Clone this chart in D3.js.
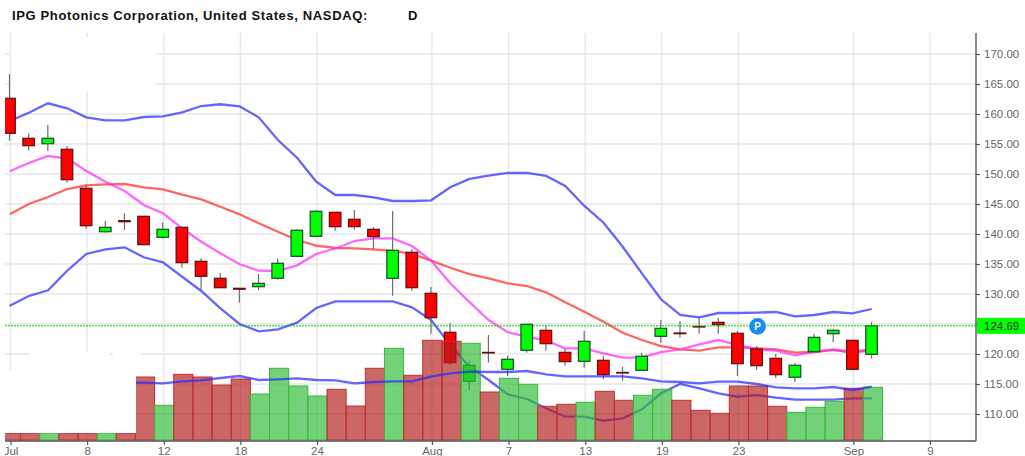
<!DOCTYPE html>
<html>
<head>
<meta charset="utf-8">
<script src="https://cdn.jsdelivr.net/npm/d3@7/dist/d3.min.js"></script>
<style>
    html, body { margin: 0; padding: 0; background: #fff; overflow: hidden; }
    svg { display: block; font-family: "Liberation Sans", Arial, sans-serif; }
</style>
</head>
<body>
<svg id="chart"></svg>
<script>
// values, one entry per trading day
const open = [162.62,155.95,155.05,154.12,147.62,140.38,142.22,142.95,139.45,141.12,135.45,132.62,130.95,131.22,132.62,136.28,139.62,143.62,142.45,140.78,132.62,136.95,130.12,123.62,115.45,120.27,117.45,120.62,123.95,120.28,118.78,118.95,116.93,117.28,122.95,123.5,124.6,125.28,123.45,120.83,119.28,116.12,120.38,123.38,122.28,119.95];
const close = [156.78,154.72,155.95,149.05,141.38,141.12,142.05,138.22,140.78,135.22,132.95,131.05,130.8,131.78,135.12,140.62,143.78,141.22,141.22,139.55,137.28,131.05,126.05,118.55,118.12,120.17,119.12,124.95,121.72,118.72,122.12,116.55,116.83,119.62,124.28,123.38,124.5,124.88,118.38,118.05,116.55,118.12,122.78,123.95,117.45,124.69];
const high = [166.67,156.78,158.17,154.67,148.17,142.17,143.45,142.95,141.95,141.12,135.95,133.5,131,133.33,135.88,140.83,144,143.62,144,141.17,143.83,137.45,131.17,125.12,118.78,123.17,119.67,124.95,124.78,120.83,123.83,119.67,117.88,120.22,125.67,125.5,126.22,126,123.83,121.33,120,118.5,123.33,124.12,122.28,125.33];
const low = [155.55,153.88,153.88,148.55,140.88,140.22,140.67,138.22,139.22,134.38,130.67,131.05,128.55,130.67,132.38,136.28,139.62,140.55,140.72,137.5,129.72,130.55,123.38,118.17,113.88,118.55,116.33,120.22,120.55,118.05,117.72,115.83,115.55,117.28,121.83,122.72,123.38,123.38,116.33,117.33,116,115.33,120.38,122,117.45,119.22];

const upperBand = [158.83,160.22,161.78,160.95,159.45,158.95,158.95,159.5,159.62,160.28,161.33,161.62,161.28,159.45,155.67,152.72,148.72,146.5,146.5,146.12,145.5,145.5,145.62,147.78,149.17,149.72,150.17,150.17,149.67,148,144.67,141.88,137.88,133.45,129.12,126.5,126.12,126.83,126.83,126.88,127,126.28,126.5,127,126.78,127.5];
const lowerBand = [128.05,129.67,130.62,133.88,136.67,137.45,137.78,136.12,135.28,132.88,130.5,127.62,125,123.78,124.12,125.22,127.67,128.78,128.78,128.78,128.78,127.78,125.67,121.5,117.88,115.67,113.28,112.5,110.95,109.55,109.55,108.88,109.28,110.78,113.45,115,114.28,113.45,112.88,113.17,112.72,112.38,112.38,112.38,112.62,112.62];
const fastAvg = [150.45,151.83,153,152.62,150.5,148.72,147.17,144.83,143.45,140.95,138.72,136.78,134.95,133.88,133.83,134.78,136.67,137.58,138.83,139.28,139.28,138,135.55,131.78,128.67,125.67,123.62,122.88,122.22,120.95,120.95,120.12,119.38,119.45,120.33,120.78,121.62,122.33,121.5,120.83,120.55,119.78,120.38,120.78,120.12,120.67];
const slowAvg = [143.28,145,146.17,147.5,148.12,148.28,148.33,147.78,147.45,146.55,145.78,144.55,143.28,141.78,140.38,139,138.08,137.67,137.62,137.45,137.17,136.67,135.55,134.38,133.33,132.62,131.78,131.33,130.28,128.62,127.05,125.38,123.55,122.33,121.33,120.78,120.55,121.12,121.12,120.95,120.78,120.22,120.33,120.67,120.38,120.78];

const volume = [7,7,7,7,7,7,7,63,34.7,65.7,63,55,61,46,71.7,54,44,50.7,34,71.7,91.7,64.7,99.7,98.7,96.7,48,61.7,55.7,33.7,35.7,37.7,48.7,39.7,44.7,50.7,39.7,29.7,26.7,54,54,33.7,27.7,32.7,38.7,51.7,52.7];
// average starts at day 6, the earlier days are hidden in the picture
const volumeAvg = [57.5,57.3,56.7,58.7,59.7,62,64,60,60.7,61.7,60,59.7,56.7,58,58.7,58.7,63.3,66.7,68.3,68,68,69,65.7,63.7,63.7,63.7,63.7,61.7,58.7,58,56.7,58.3,58.3,56,52.7,51.7,51.7,53,50,53.3];
const volumeAvgStart = 6;

const priceTicks = [110,115,120,125,130,135,140,145,150,155,160,165,170];
const dayTicks = [0,4,8,12,16,22,26,30,34,38,44,48];
const dayLabels = ["Jul","8","12","18","24","Aug","7","13","19","23","Sep","9"];

const lastPrice = 124.69;
const markerDay = 39;
const markerPrice = 124.6;

const config = {
    width: 1025,
    height: 456,
    left: 5,
    right: 976,
    top: 33,
    bottom: 441,
    volumeBase: 440,
};

const svg = d3.select("#chart")
    .attr("width", config.width)
    .attr("height", config.height);

const x = d3.scaleLinear().domain([0, 48]).range([10.5, 930]);
const y = d3.scaleLinear().domain([105.5, 173.5]).range([config.bottom, config.top]);
const yVol = d3.scaleLinear().domain([0, 100]).range([config.volumeBase, config.volumeBase - 100]);

svg.append("defs").append("clipPath").attr("id", "plot")
    .append("rect")
    .attr("x", config.left)
    .attr("y", config.top)
    .attr("width", config.right - config.left)
    .attr("height", config.bottom - config.top);

svg.select("defs").append("clipPath").attr("id", "xlabels")
    .append("rect")
    .attr("x", config.left)
    .attr("y", config.bottom)
    .attr("width", config.right - config.left)
    .attr("height", config.height - config.bottom);

// grid
const grid = svg.append("g").attr("stroke", "#e7e7e7").attr("stroke-width", 1.4);
grid.selectAll(".h").data(priceTicks).join("line")
    .attr("class", "h")
    .attr("x1", config.left).attr("x2", config.right)
    .attr("y1", d => y(d)).attr("y2", d => y(d));
grid.selectAll(".v").data(dayTicks).join("line")
    .attr("class", "v")
    .attr("x1", d => x(d)).attr("x2", d => x(d))
    .attr("y1", config.top).attr("y2", config.bottom);

const plot = svg.append("g").attr("clip-path", "url(#plot)");

// price lines sit under the candles
const days = d3.range(open.length);
const drawLine = (values, color) => {
    plot.append("path")
        .attr("d", d3.line().x((d, i) => x(i) - 0.8).y(d => y(d))(values))
        .attr("fill", "none")
        .attr("stroke", color)
        .attr("stroke-opacity", 0.72)
        .attr("stroke-width", 2.3);
};
drawLine(upperBand, "#2a2aff");
drawLine(lowerBand, "#2a2aff");
drawLine(slowAvg, "#ff2a2a");
drawLine(fastAvg, "#ff2aff");

// candles
const isUp = i => close[i] > open[i];
const candles = plot.append("g").selectAll("g").data(days).join("g")
    .attr("transform", i => `translate(${x(i) - 1}, 0)`);
candles.append("line")
    .attr("y1", i => y(high[i]))
    .attr("y2", i => y(low[i]))
    .attr("stroke", "#6e6e6e")
    .attr("stroke-width", 1.2);
candles.append("rect")
    .attr("x", -5.8)
    .attr("width", 11.6)
    .attr("y", i => y(Math.max(open[i], close[i])))
    .attr("height", i => Math.abs(y(open[i]) - y(close[i])))
    .attr("fill", i => isUp(i) ? "#00ff00" : "#ff0000")
    .attr("stroke", i => isUp(i) ? "#1c4a2c" : "#5c1010")
    .attr("stroke-width", 1.2);

// volume bars over the candles
const step = x(1) - x(0);
plot.append("g").selectAll("rect").data(days).join("rect")
    .attr("x", i => x(i) + 0.4 - step / 2)
    .attr("width", step)
    .attr("y", i => yVol(volume[i]))
    .attr("height", i => yVol(0) - yVol(volume[i]))
    .attr("fill", i => isUp(i) ? "rgba(48,189,55,0.68)" : "rgba(180,31,31,0.68)")
    .attr("stroke", i => isUp(i) ? "#3cb83c" : "#c03030")
    .attr("stroke-width", 1);

plot.append("path")
    .attr("d", d3.line().x((d, i) => x(i + volumeAvgStart) - 0.8).y(d => yVol(d))(volumeAvg))
    .attr("fill", "none")
    .attr("stroke", "#2a2aff")
    .attr("stroke-opacity", 0.72)
    .attr("stroke-width", 2.3);

// white patches in the source picture
const patches = [
    [11, 37, 145, 55],
    [29, 352, 81, 18],
    [113, 352, 28, 18],
    [5, 370, 131, 63],
];
svg.append("g").selectAll("rect").data(patches).join("rect")
    .attr("x", d => d[0]).attr("y", d => d[1])
    .attr("width", d => d[2]).attr("height", d => d[3])
    .attr("fill", "#fff");

// last price line
svg.append("line")
    .attr("x1", config.left).attr("x2", config.right)
    .attr("y1", y(lastPrice)).attr("y2", y(lastPrice))
    .attr("stroke", "#00cc00")
    .attr("stroke-width", 1)
    .attr("stroke-dasharray", "2,1");

// axes
const yAxis = d3.axisRight(y)
    .tickValues(priceTicks)
    .tickFormat(d3.format(".2f"))
    .tickSize(4)
    .tickPadding(4);
const yAxisG = svg.append("g")
    .attr("transform", `translate(${config.right}, 0)`)
    .call(yAxis);

const xAxis = d3.axisBottom(x)
    .tickValues(dayTicks)
    .tickFormat((d, i) => dayLabels[i])
    .tickSize(4)
    .tickPadding(2);
const xClip = svg.append("g").attr("clip-path", "url(#xlabels)");
const xAxisG = xClip.append("g")
    .attr("transform", `translate(0, ${config.bottom})`)
    .call(xAxis);

[yAxisG, xAxisG].forEach(g => {
    g.selectAll("text")
        .attr("fill", "#666")
        .style("font-size", "11.5px")
        .style("font-family", '"Liberation Sans", Arial, sans-serif');
    g.selectAll(".tick line").attr("stroke", "#555").attr("stroke-width", 1.2);
    g.select(".domain").remove();
});

svg.append("line")
    .attr("x1", config.left).attr("x2", config.right)
    .attr("y1", config.bottom).attr("y2", config.bottom)
    .attr("stroke", "#555").attr("stroke-width", 1.4);
svg.append("line")
    .attr("x1", config.right).attr("x2", config.right)
    .attr("y1", config.top).attr("y2", config.bottom)
    .attr("stroke", "#555").attr("stroke-width", 1.4);

// last price flag
svg.append("rect")
    .attr("x", config.right + 1)
    .attr("y", y(lastPrice) - 8)
    .attr("width", config.width - config.right - 1)
    .attr("height", 16)
    .attr("fill", "#00ff00");
svg.append("text")
    .attr("x", 984)
    .attr("y", y(lastPrice))
    .attr("dy", "0.35em")
    .attr("fill", "#333")
    .style("font-size", "11.5px")
    .text(d3.format(".2f")(lastPrice));

// marker
const marker = svg.append("g")
    .attr("transform", `translate(${x(markerDay)}, ${y(markerPrice)})`);
marker.append("circle").attr("r", 8.3).attr("fill", "#1590f0");
marker.append("text")
    .attr("text-anchor", "middle")
    .attr("dy", "0.36em")
    .attr("fill", "#fff")
    .style("font-size", "10px")
    .style("font-weight", "bold")
    .text("P");

// title
svg.append("text")
    .attr("x", 12).attr("y", 20)
    .attr("fill", "#111")
    .style("font-size", "13px")
    .style("font-weight", "bold")
    .style("letter-spacing", "0.63px")
    .text("IPG Photonics Corporation, United States, NASDAQ:");
svg.append("text")
    .attr("x", 408).attr("y", 20)
    .attr("fill", "#111")
    .style("font-size", "13px")
    .style("font-weight", "bold")
    .text("D");
</script>
</body>
</html>
